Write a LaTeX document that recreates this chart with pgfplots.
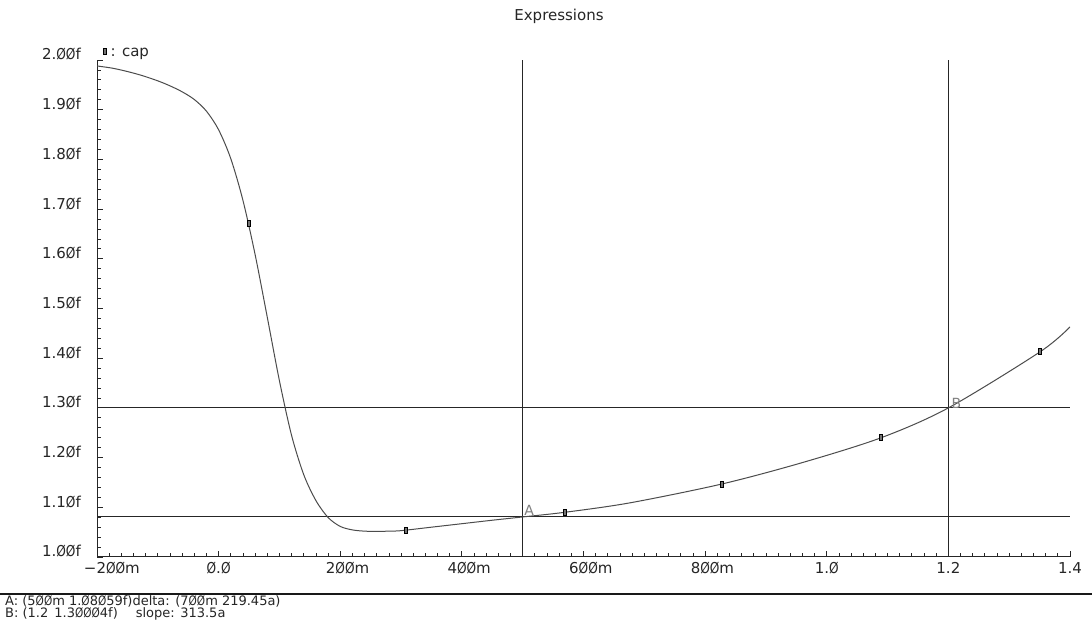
\documentclass[border=0pt]{standalone}
\usepackage{fontspec}
\setmainfont{DejaVu Sans}
\usepackage{graphicx}
\usepackage{pgfplots}
\pgfplotsset{compat=1.18}
\newcommand\z{\scalebox{0.81}[1]{Ø}}
\pgfdeclareplotmark{vrect}{\pgfpathrectangle{\pgfpoint{-1.5pt}{-3pt}}{\pgfpoint{3pt}{6pt}}\pgfusepathqfillstroke}

\begin{document}
\begin{tikzpicture}[x=1pt,y=1pt]
\path[use as bounding box, fill=white] (0,0) rectangle (1092,623);
\begin{axis}[
  at={(97pt,66pt)}, anchor=south west,
  scale only axis, width=973pt, height=497pt,
  xmin=-0.2, xmax=1.4, ymin=1.0, ymax=2.0,
  axis x line=bottom, axis y line=left,
  axis line style={-, line width=1pt, black!85},
  tick align=inside,
  xtick={-0.2,0,0.2,0.4,0.6,0.8,1.0,1.2,1.4},
  xticklabels={\makebox[0pt][l]{\hspace{-13pt}−2\z\z m}, \z.\z, 2\z\z\rlap{m}, 4\z\z\rlap{m}, 6\z\z\rlap{m}, 8\z\z\rlap{m}, 1.\z, 1.2, 1.4},
  ytick={1.0,1.1,1.2,1.3,1.4,1.5,1.6,1.7,1.8,1.9,2.0},
  yticklabels={1.\z\z f, 1.1\z f, 1.2\z f, 1.3\z f, 1.4\z f, 1.5\z f, 1.6\z f, 1.7\z f, 1.8\z f, 1.9\z f, 2.\z\z f},
  minor x tick num=9, minor y tick num=4,
  major tick length=6pt, minor tick length=3.5pt,
  tick style={line width=0.8pt, black!85},
  tick label style={font=\fontsize{15}{18}\selectfont, inner sep=0pt, text=black!85},
  xticklabel style={anchor=base, yshift=-17pt},
  yticklabel style={anchor=base east, xshift=-16pt},
  legend style={at={(axis description cs:0,1)}, anchor=south west, xshift=6pt, yshift=1.5pt,
    draw=none, fill=none, inner sep=0pt, outer sep=0pt,
    font=\fontsize{15}{18}\selectfont, text=black!85,
    nodes={inner sep=0pt},
    /tikz/every odd column/.style={column sep=4pt}},
]
% cursor lines
\addplot[forget plot, black!85, line width=1pt] coordinates {(0.5,1.0) (0.5,2.0)};
\addplot[forget plot, black!85, line width=1pt] coordinates {(1.2,1.0) (1.2,2.0)};
\addplot[forget plot, black!85, line width=1pt] coordinates {(-0.2,1.08059) (1.4,1.08059)};
\addplot[forget plot, black!85, line width=1pt] coordinates {(-0.2,1.30004) (1.4,1.30004)};
% cap curve
\addplot[black!70, line width=1pt, smooth, tension=0.5,
  legend image code/.code={\draw[fill=black!55, draw=black, line width=0.6pt] (0pt,-1pt) rectangle (3pt,5pt);}]
coordinates {
(-0.2,1.988) (-0.175,1.9836) (-0.15,1.9768) (-0.125,1.9684) (-0.1,1.958)
(-0.08,1.948) (-0.06,1.936) (-0.04,1.9205) (-0.02,1.897) (0,1.8595)
(0.02,1.8015) (0.04,1.7175) (0.06,1.6085) (0.08,1.4825) (0.1,1.3545)
(0.12,1.2445) (0.14,1.1655) (0.16,1.1135) (0.18,1.0795) (0.2,1.0615)
(0.22,1.0545) (0.24,1.052) (0.26,1.0515) (0.28,1.052) (0.3,1.053)
(0.35,1.060) (0.4,1.067) (0.45,1.074) (0.5,1.0806) (0.5697,1.090)
(0.6766,1.109) (0.828,1.147) (0.96,1.190) (1.0895,1.240) (1.2,1.300)
(1.351,1.413) (1.4,1.463)
};
\addlegendentry{: cap}
\addplot[forget plot, only marks, mark=vrect, mark options={fill=black!55, draw=black, line width=0.6pt}]
coordinates {(0.0488,1.672) (0.307,1.054) (0.5697,1.090) (0.828,1.147) (1.0895,1.240) (1.351,1.413)};
\node[anchor=base west, inner sep=0pt, text=black!50, font=\fontsize{14}{16}\selectfont, xshift=1.5pt, yshift=1pt] at (axis cs:0.5,1.08059) {A};
\node[anchor=base west, inner sep=0pt, text=black!50, font=\fontsize{14}{16}\selectfont, xshift=3pt, yshift=-0.5pt] at (axis cs:1.2,1.30004) {B};
\end{axis}
\node[anchor=base, inner sep=0pt, text=black!85, font=\fontsize{15}{18}\selectfont] at (559,602) {Expressions};
\draw[line width=1.5pt, black!90] (0,29) -- (1092,29);
\node[anchor=base west, inner sep=0pt, text=black!85, font=\fontsize{13}{14}\selectfont] at (5,17) {A: (5\z\z m 1.\z8\z59f)delta: (7\z\z m 219.45a)};
\node[anchor=base west, inner sep=0pt, text=black!85, font=\fontsize{13}{14}\selectfont] at (5,5) {B: (1.2\hspace{6pt}1.3\z\z\z4f)\hspace{18pt}slope: 313.5a};
\end{tikzpicture}
\end{document}
